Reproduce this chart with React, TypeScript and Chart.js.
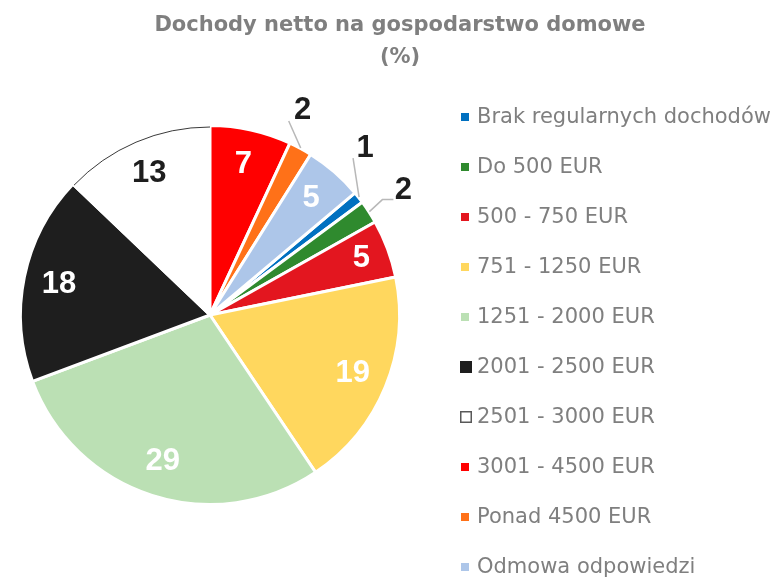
import React, { useEffect, useRef } from 'react';
import { Chart, registerables } from 'chart.js';

Chart.register(...registerables);

// ---------- data ----------
const titleLines = ['Dochody netto na gospodarstwo domowe', '(%)'];
const categories = [
  'Brak regularnych dochodów',
  'Do 500 EUR',
  '500 - 750 EUR',
  '751 - 1250 EUR',
  '1251 - 2000 EUR',
  '2001 - 2500 EUR',
  '2501 - 3000 EUR',
  '3001 - 4500 EUR',
  'Ponad 4500 EUR',
  'Odmowa odpowiedzi',
];
const shares = [1, 2, 5, 19, 29, 18, 13, 7, 2, 5];
const sliceColors = [
  '#0070c0',
  '#2f8a2e',
  '#e3161f',
  '#ffd75e',
  '#bbe0b4',
  '#1e1e1e',
  '#ffffff',
  '#ff0000',
  '#ff7118',
  '#adc6e9',
];
// category whose slice begins at 12 o'clock
const firstAtTop = '3001 - 4500 EUR';

// ---------- styles ----------
const GREY = '#7f7f7f';
const DARK = '#1e1e1e';
const LABEL_FONT = 'bold 31px "Liberation Sans", Arial, sans-serif';
const TITLE_FONT = 'bold 21px "DejaVu Sans", sans-serif';
const LEGEND_FONT = '21px "DejaVu Sans", sans-serif';
const VISIBLE_R = 188;

const total = shares.reduce((a, b) => a + b, 0);
const topIdx = categories.indexOf(firstAtTop);
const before = shares.slice(topIdx).reduce((a, b) => a + b, 0);
const startRotation = (before / total) * 360;

const titlePlugin = {
  id: 'customTitle',
  afterDraw(chart: any) {
    const ctx = chart.ctx;
    ctx.save();
    ctx.font = TITLE_FONT;
    ctx.fillStyle = GREY;
    ctx.textAlign = 'center';
    ctx.textBaseline = 'middle';
    titleLines.forEach((line, i) => {
      ctx.fillText(line, 400, 26 + i * 32);
    });
    ctx.restore();
  },
};

const legendPlugin = {
  id: 'customLegend',
  afterDraw(chart: any) {
    const ctx = chart.ctx;
    const labels: string[] = chart.data.labels;
    const colors: string[] = chart.data.datasets[0].backgroundColor;
    ctx.save();
    ctx.font = LEGEND_FONT;
    ctx.textAlign = 'left';
    ctx.textBaseline = 'middle';
    labels.forEach((lab, i) => {
      const cy = 117 + i * 50;
      const c = colors[i];
      const large = c === '#1e1e1e' || c === '#ffffff';
      if (large) {
        ctx.fillStyle = c;
        ctx.fillRect(460, cy - 6, 12, 12);
        if (c === '#ffffff') {
          ctx.strokeStyle = '#595959';
          ctx.lineWidth = 1.5;
          ctx.strokeRect(460.75, cy - 5.25, 10.5, 10.5);
        }
      } else {
        ctx.fillStyle = c;
        ctx.fillRect(461, cy - 4, 8, 8);
      }
      ctx.fillStyle = GREY;
      ctx.fillText(lab, 477, cy + 1);
    });
    ctx.restore();
  },
};

// callouts for the thin slices: leader line segments (relative) and text offset
const callouts: Record<number, { segs: number[][]; text: number[] }> = {
  8: { segs: [[-12, -27]], text: [14, -11] },
  0: { segs: [[-6, -39]], text: [12, -10] },
  1: { segs: [[13, -12], [11, 0]], text: [10, -9] },
};

const labelPlugin = {
  id: 'sliceLabels',
  afterDatasetsDraw(chart: any) {
    const ctx = chart.ctx;
    const meta = chart.getDatasetMeta(0);
    const ds = chart.data.datasets[0];
    ctx.save();
    meta.data.forEach((arc: any, i: number) => {
      const { x, y, startAngle, endAngle } = arc.getProps(['x', 'y', 'startAngle', 'endAngle'], true);
      const mid = (startAngle + endAngle) / 2;
      const bg = ds.backgroundColor[i];
      if (bg === '#ffffff') {
        ctx.beginPath();
        ctx.arc(x, y, VISIBLE_R, startAngle, endAngle);
        ctx.strokeStyle = '#3a3a3a';
        ctx.lineWidth = 1;
        ctx.stroke();
      }
      const value = ds.data[i];
      ctx.font = LABEL_FONT;
      ctx.textAlign = 'center';
      ctx.textBaseline = 'middle';
      const co = callouts[i];
      if (co) {
        let px = x + (VISIBLE_R + 2) * Math.cos(mid);
        let py = y + (VISIBLE_R + 2) * Math.sin(mid);
        ctx.beginPath();
        ctx.moveTo(px, py);
        co.segs.forEach(([dx, dy]) => {
          px += dx;
          py += dy;
          ctx.lineTo(px, py);
        });
        ctx.strokeStyle = '#b8b8b8';
        ctx.lineWidth = 1.5;
        ctx.stroke();
        ctx.fillStyle = DARK;
        ctx.fillText(String(value), px + co.text[0], py + co.text[1]);
      } else {
        const f = i === 2 ? 0.86 : 0.82;
        const lx = x + VISIBLE_R * f * Math.cos(mid);
        const ly = y + VISIBLE_R * f * Math.sin(mid);
        ctx.fillStyle = bg === '#ffffff' ? DARK : '#ffffff';
        ctx.fillText(String(value), lx, ly);
      }
    });
    ctx.restore();
  },
};

export default function App() {
  const ref = useRef<HTMLCanvasElement | null>(null);
  useEffect(() => {
    if (!ref.current) return;
    const chart = new Chart(ref.current, {
      type: 'pie',
      data: {
        labels: categories,
        datasets: [
          {
            data: shares,
            backgroundColor: sliceColors,
            borderColor: '#ffffff',
            borderWidth: 3,
            radius: VISIBLE_R + 1.5,
          } as any,
        ],
      },
      options: {
        responsive: false,
        animation: false,
        rotation: startRotation,
        layout: { padding: { left: 0, right: 359, top: 76, bottom: 24 } },
        plugins: {
          legend: { display: false },
          title: { display: false },
          tooltip: { enabled: false },
        },
      },
      plugins: [titlePlugin, legendPlugin, labelPlugin],
    });
    return () => chart.destroy();
  }, []);
  return (
    <div style={{ position: 'absolute', left: 0, top: 0, width: 779, height: 578, background: '#ffffff' }}>
      <canvas ref={ref} width={779} height={578} style={{ display: 'block' }} />
    </div>
  );
}
